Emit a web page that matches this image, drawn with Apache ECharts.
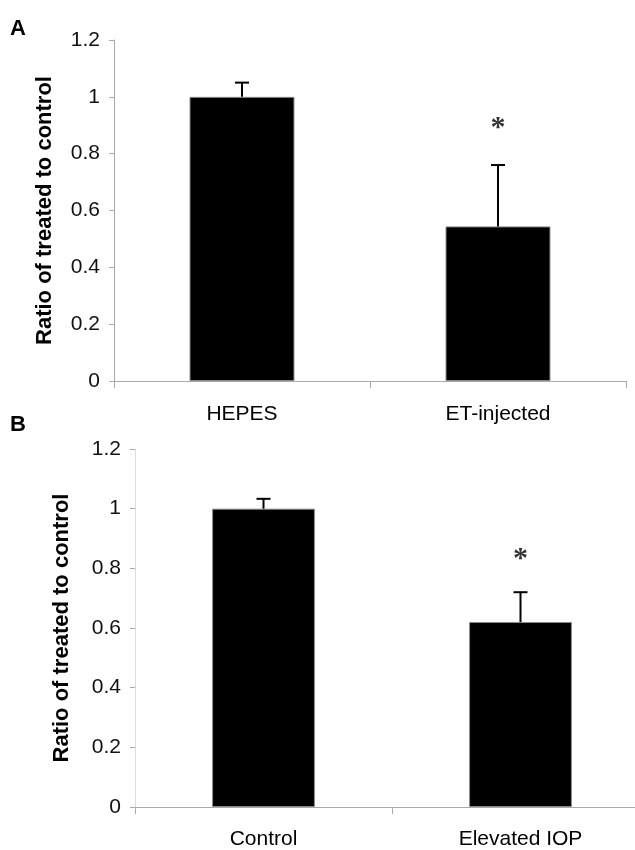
<!DOCTYPE html>
<html>
<head>
<meta charset="utf-8">
<script src="https://cdn.jsdelivr.net/npm/echarts@6/dist/echarts.min.js"></script>
<style>
html,body{margin:0;padding:0;background:#fff;overflow:hidden;width:635px;height:850px;}
#chart{width:660px;height:850px;}
</style>
</head>
<body>
<div id="chart"></div>
<script>
// Panel A
const catsA = ['HEPES', 'ET-injected'];
const valsA = [1.0, 0.544];
const errA = [0.05, 0.216];
const starA = [null, 0.89];
// Panel B
const catsB = ['Control', 'Elevated IOP'];
const valsB = [1.0, 0.62];
const errB = [0.033, 0.10];
const starB = [null, 0.83];
// Axis
const yMin = 0, yMax = 1.2, yStep = 0.2;
const yTitle = 'Ratio of treated to control';
const panelLabels = ['A', 'B'];

const FONT = 'Liberation Sans, Arial, sans-serif';

function errRender(params, api) {
  const x = api.value(0), v = api.value(1), e = api.value(2);
  const p0 = api.coord([x, v]);
  const p1 = api.coord([x, v + e]);
  return {
    type: 'group',
    children: [
      {type: 'line', shape: {x1: p0[0], y1: p0[1], x2: p1[0], y2: p1[1]}, style: {stroke: '#000', lineWidth: 2}},
      {type: 'line', shape: {x1: p1[0] - 7, y1: p1[1], x2: p1[0] + 7, y2: p1[1]}, style: {stroke: '#000', lineWidth: 2}}
    ]
  };
}

function xAxisFor(cats, gi, margin) {
  return {
    type: 'category', gridIndex: gi, data: cats,
    axisLine: {lineStyle: {color: '#aaa', width: 1}},
    axisTick: {show: true, length: 7, lineStyle: {color: '#aaa'}},
    axisLabel: {color: '#000', fontSize: 21, fontFamily: FONT, margin: margin}
  };
}
function yAxisFor(gi, gap, lineColor) {
  return {
    type: 'value', gridIndex: gi, min: yMin, max: yMax, interval: yStep,
    name: yTitle, nameLocation: 'middle', nameGap: gap,
    nameTextStyle: {color: '#000', fontSize: 22, fontWeight: 'bold', fontFamily: FONT},
    axisLine: {show: true, lineStyle: {color: lineColor, width: 1}},
    axisTick: {show: true, length: 5, lineStyle: {color: '#aaa'}},
    axisLabel: {color: '#111', fontSize: 21, fontFamily: FONT, margin: 14},
    splitLine: {show: false}
  };
}
function starData(stars) {
  const out = [];
  stars.forEach((s, i) => { if (s !== null) out.push([i, s]); });
  return out;
}

const starLabel = {show: true, position: 'inside', formatter: '*', fontSize: 30, fontWeight: 'bold',
  fontFamily: 'Liberation Serif, serif', color: '#000'};

const chart = echarts.init(document.getElementById('chart'), null, {renderer: 'canvas'});
chart.setOption({
  animation: false,
  backgroundColor: '#fff',
  graphic: [
    {type: 'text', left: 10, top: 18, style: {text: panelLabels[0], fontSize: 22, fontWeight: 'bold', fontFamily: FONT, fill: '#000'}},
    {type: 'text', left: 10, top: 414, style: {text: panelLabels[1], fontSize: 22, fontWeight: 'bold', fontFamily: FONT, fill: '#000'}}
  ],
  grid: [
    {left: 114, top: 40, width: 512, height: 341},
    {left: 135, top: 449, width: 514, height: 359}
  ],
  xAxis: [xAxisFor(catsA, 0, 23), xAxisFor(catsB, 1, 22)],
  yAxis: [yAxisFor(0, 58, '#aaa'), yAxisFor(1, 62, '#ddd')],
  series: [
    {type: 'bar', xAxisIndex: 0, yAxisIndex: 0, data: valsA, barWidth: '41%',
     itemStyle: {color: '#000', borderColor: '#888', borderWidth: 1}},
    {type: 'custom', xAxisIndex: 0, yAxisIndex: 0, renderItem: errRender, z: 3,
     data: catsA.map((c, i) => [i, valsA[i], errA[i]])},
    {type: 'scatter', xAxisIndex: 0, yAxisIndex: 0, symbolSize: 1, itemStyle: {color: 'transparent'},
     data: starData(starA), label: starLabel},
    {type: 'bar', xAxisIndex: 1, yAxisIndex: 1, data: valsB, barWidth: '40%',
     itemStyle: {color: '#000', borderColor: '#888', borderWidth: 1}},
    {type: 'custom', xAxisIndex: 1, yAxisIndex: 1, renderItem: errRender, z: 3,
     data: catsB.map((c, i) => [i, valsB[i], errB[i]])},
    {type: 'scatter', xAxisIndex: 1, yAxisIndex: 1, symbolSize: 1, itemStyle: {color: 'transparent'},
     data: starData(starB), label: starLabel}
  ]
});
</script>
</body>
</html>
